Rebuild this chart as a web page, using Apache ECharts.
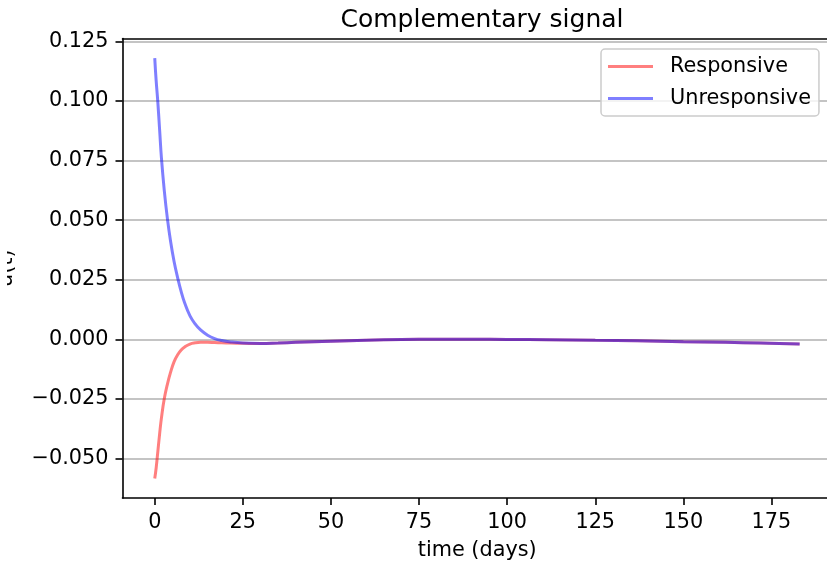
<!DOCTYPE html>
<html>
<head>
<meta charset="utf-8">
<script src="https://cdn.jsdelivr.net/npm/echarts@6/dist/echarts.min.js"></script>
<style>
  html, body { margin: 0; padding: 0; background: #fff; }
  #chart { width: 827px; height: 564px; }
</style>
</head>
<body>
<div id="chart"></div>
<script>
// values
var days = [0, 0.4, 0.85, 1.4, 1.9, 2.7, 3.6, 4.5, 5.5, 6.5, 7.5, 8.5, 10, 11.5, 13, 15, 17, 19, 21.5,
  25, 30, 35, 40, 50, 60, 70, 80, 90, 100, 112, 125, 137, 150, 162, 172, 183];

var responsive = [-0.0584, -0.0540, -0.0475, -0.0395, -0.0330, -0.0250, -0.0188, -0.0138, -0.0094,
  -0.0065, -0.0045, -0.0032, -0.0020, -0.0015, -0.0013, -0.0013, -0.0014, -0.0015, -0.0016,
  -0.0017, -0.0018, -0.0016, -0.0013, -0.0008, -0.0004, -0.0001, 0.0000, 0.0000, -0.0001,
  -0.0002, -0.0004, -0.0006, -0.0010, -0.0013, -0.0016, -0.0020];

var unresponsive = [0.1180, 0.1085, 0.1000, 0.0875, 0.0760, 0.0625, 0.0505, 0.0410, 0.0325,
  0.0258, 0.0200, 0.0152, 0.0098, 0.0064, 0.0039, 0.0017, 0.0003, -0.0005, -0.0011,
  -0.0016, -0.0018, -0.0016, -0.0013, -0.0008, -0.0004, -0.0001, 0.0000, 0.0000, -0.0001,
  -0.0002, -0.0004, -0.0006, -0.0010, -0.0013, -0.0016, -0.0020];

var xTicks = [0, 25, 50, 75, 100, 125, 150, 175];
var yTicks = [-0.05, -0.025, 0, 0.025, 0.05, 0.075, 0.1, 0.125];

function pairs(xs, ys) {
  return xs.map(function (x, i) { return [x, ys[i]]; });
}

var font = 'DejaVu Sans';
var fs = 20.8;
var chart = echarts.init(document.getElementById('chart'), null, { renderer: 'canvas' });

var option = {
  backgroundColor: '#ffffff',
  animation: false,
  textStyle: { fontFamily: font },
  title: {
    text: 'Complementary signal',
    left: 477,
    top: 3,
    textAlign: 'center',
    textStyle: { fontFamily: font, fontSize: 25, fontWeight: 'normal', color: '#000' }
  },
  legend: {
    orient: 'vertical',
    left: 601,
    top: 49,
    padding: [6, 8, 6, 7],
    itemGap: 9,
    itemWidth: 45,
    itemHeight: 3,
    icon: 'rect',
    backgroundColor: 'rgba(255,255,255,0.8)',
    borderColor: '#cccccc',
    borderWidth: 1.5,
    borderRadius: 4,
    textStyle: { fontFamily: font, fontSize: fs, color: '#000', lineHeight: 23, padding: [0, 0, 0, 12] },
    data: ['Responsive', 'Unresponsive']
  },
  grid: {
    left: 122.5,
    top: 38.5,
    width: 709.4,
    bottom: 66,
    containLabel: false,
    outerBoundsMode: 'none'
  },
  // the source figure is cropped just left of the y label
  graphic: [{
    type: 'rect',
    left: 0,
    top: 220,
    shape: { width: 7, height: 100 },
    style: { fill: '#ffffff' },
    z: 100
  }],
  xAxis: [{
    type: 'value',
    min: -9.15,
    max: 192.15,
    name: 'time (days)',
    nameLocation: 'middle',
    nameGap: 42,
    nameTextStyle: { fontFamily: font, fontSize: fs, color: '#000' },
    axisLine: { show: true, onZero: false, lineStyle: { color: '#000', width: 1.6 } },
    axisTick: { show: true, length: 7, customValues: xTicks, lineStyle: { color: '#000', width: 1.6 } },
    axisLabel: { customValues: xTicks, margin: 14, fontFamily: font, fontSize: fs, color: '#000' },
    splitLine: { show: false }
  }, {
    type: 'value',
    position: 'top',
    min: -9.15,
    max: 192.15,
    axisLine: { show: true, onZero: false, lineStyle: { color: '#000', width: 1.6 } },
    axisTick: { show: false },
    axisLabel: { show: false },
    splitLine: { show: false }
  }],
  yAxis: {
    type: 'value',
    min: -0.0666,
    max: 0.1262,
    name: 'u(t)',
    nameLocation: 'middle',
    nameGap: 105,
    nameTextStyle: { fontFamily: font, fontSize: fs, color: '#000' },
    axisLine: { show: true, onZero: false, lineStyle: { color: '#000', width: 1.6 } },
    axisTick: { show: true, length: 7, customValues: yTicks, lineStyle: { color: '#000', width: 1.6 } },
    axisLabel: {
      customValues: yTicks,
      margin: 14,
      fontFamily: font,
      fontSize: fs,
      color: '#000',
      formatter: function (v) {
        var s = Math.abs(v).toFixed(3);
        return v < -1e-9 ? '\u2212' + s : s;
      }
    },
    splitLine: { show: true, lineStyle: { color: '#b0b0b0', width: 1.6 } }
  },
  series: [{
    name: 'Responsive',
    type: 'line',
    data: pairs(days, responsive),
    symbol: 'none',
    smooth: 0.45,
    color: 'rgba(255,0,0,0.5)',
    lineStyle: { color: 'rgba(255,0,0,0.5)', width: 3 }
  }, {
    name: 'Unresponsive',
    type: 'line',
    data: pairs(days, unresponsive),
    symbol: 'none',
    smooth: 0.45,
    color: 'rgba(0,0,255,0.5)',
    lineStyle: { color: 'rgba(0,0,255,0.5)', width: 3 }
  }]
};

chart.setOption(option);
</script>
</body>
</html>
